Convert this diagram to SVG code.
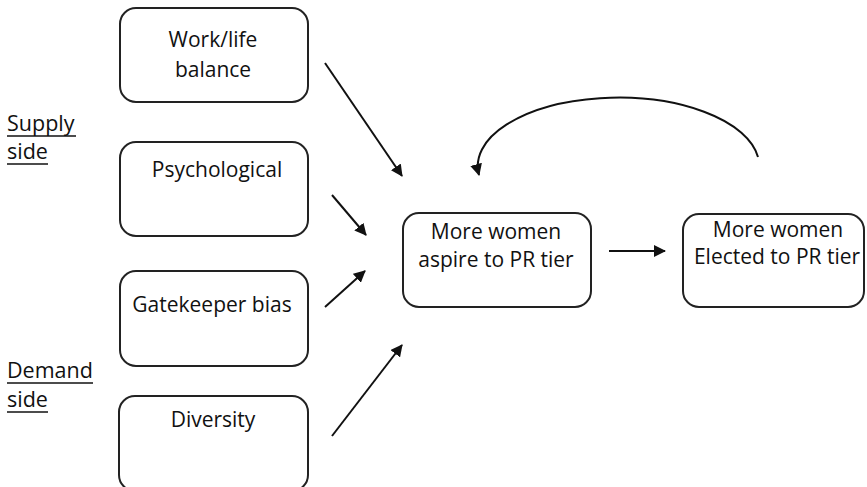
<svg xmlns="http://www.w3.org/2000/svg" width="867" height="487" viewBox="0 0 867 487">
<style>
.box{fill:#fff;stroke:#222;stroke-width:2}
.t{font-family:"Open Sans","Liberation Sans",sans-serif;font-size:21px;fill:#111;text-anchor:middle}
.lbl{font-family:"Open Sans","Liberation Sans",sans-serif;font-size:21.5px;fill:#111}
.ul{stroke:#111;stroke-width:1.3}
.c{fill:none;stroke:#111;stroke-width:2}
</style>
<defs>
<marker id="ah" viewBox="0 0 12 12" refX="11" refY="6" markerWidth="12" markerHeight="12" markerUnits="userSpaceOnUse" orient="auto">
<path d="M0,0 L12,6 L0,12 Z" fill="#111"/>
</marker>
</defs>
<rect width="867" height="487" fill="#fff"/>
<g id="supply-label">
<text class="lbl" x="7" y="131">Supply</text>
<text class="lbl" x="7" y="159">side</text>
<line class="ul" x1="7" y1="136" x2="76" y2="136"/>
<line class="ul" x1="7" y1="164" x2="48" y2="164"/>
</g>
<g id="demand-label">
<text class="lbl" x="7" y="378">Demand</text>
<text class="lbl" x="7" y="407">side</text>
<line class="ul" x1="7" y1="383" x2="93" y2="383"/>
<line class="ul" x1="7" y1="412" x2="48" y2="412"/>
</g>
<g id="worklife">
<rect class="box" x="120" y="8" width="188" height="94" rx="16"/>
<text class="t" x="213" y="47">Work/life</text>
<text class="t" x="213" y="77">balance</text>
</g>
<g id="psychological">
<rect class="box" x="120" y="142" width="188" height="94" rx="16"/>
<text class="t" x="217" y="177">Psychological</text>
</g>
<g id="gatekeeper">
<rect class="box" x="120" y="271" width="188" height="95" rx="16"/>
<text class="t" x="212" y="312">Gatekeeper bias</text>
</g>
<g id="diversity">
<rect class="box" x="119" y="396" width="189" height="95" rx="16"/>
<text class="t" x="213" y="427">Diversity</text>
</g>
<g id="aspire">
<rect class="box" x="403" y="213" width="188" height="94" rx="16"/>
<text class="t" x="496" y="239">More women</text>
<text class="t" x="496" y="267">aspire to PR tier</text>
</g>
<g id="elected">
<rect class="box" x="683" y="214" width="181" height="93" rx="16"/>
<text class="t" x="778" y="237">More women</text>
<text class="t" x="777" y="264">Elected to PR tier</text>
</g>
<g id="connectors">
<line class="c" x1="325" y1="63" x2="402" y2="176" marker-end="url(#ah)"/>
<line class="c" x1="332" y1="195" x2="366" y2="235" marker-end="url(#ah)"/>
<line class="c" x1="325" y1="307" x2="365" y2="271" marker-end="url(#ah)"/>
<line class="c" x1="332" y1="436" x2="402" y2="345" marker-end="url(#ah)"/>
<line class="c" x1="609" y1="251" x2="665" y2="251" marker-end="url(#ah)"/>
<path class="c" d="M758 157 A140 68 0 0 0 479 175" marker-end="url(#ah)"/>
</g>
</svg>
